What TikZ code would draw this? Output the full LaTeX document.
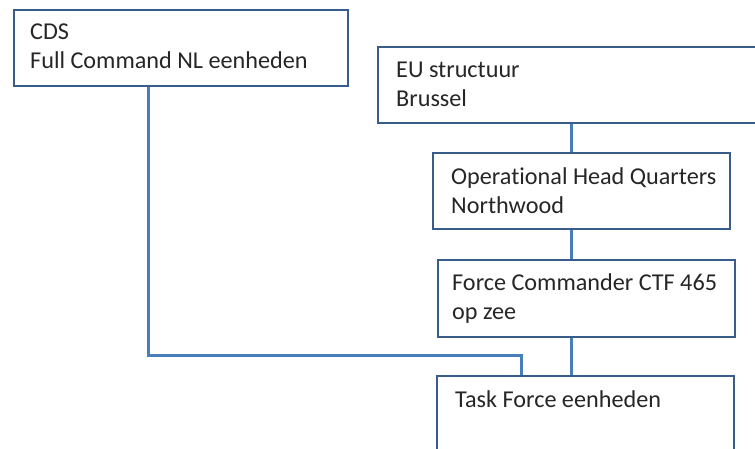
\documentclass[tikz,border=0pt]{standalone}
\usepackage{fontspec}
\setmainfont[Ligatures={NoCommon,NoContextual},Contextuals=NoAlternate]{Carlito}
\usetikzlibrary{calc}
\definecolor{boxline}{RGB}{56,93,138}
\definecolor{connline}{RGB}{74,126,187}
\begin{document}
\begin{tikzpicture}[x=1pt,y=-1pt,
  orgbox/.style={draw=boxline,line width=2pt,fill=white,rectangle,inner sep=0pt,anchor=north west},
  txt/.style={anchor=north west,inner sep=0pt,align=left,text=black!85,font=\fontsize{24.2}{29}\selectfont},
  conn/.style={draw=connline,line width=3pt}]
\useasboundingbox (0,0) rectangle (755,448);
\clip (0,0) rectangle (755,448);
\node[orgbox,minimum width=334pt,minimum height=76pt] (cds) at (13,9) {};
\node[orgbox,minimum width=430pt,minimum height=76pt] (eu) at (377,46) {};
\node[orgbox,minimum width=297pt,minimum height=76pt] (ohq) at (432,152) {};
\node[orgbox,minimum width=297pt,minimum height=77pt] (fc) at (437,259) {};
\node[orgbox,minimum width=297pt,minimum height=110pt] (tf) at (436,375) {};
\coordinate (cx) at (571,0);
\coordinate (bend) at (521,355);
\draw[conn] (eu.south -| cx) -- (ohq.north -| cx);
\draw[conn] (ohq.south -| cx) -- (fc.north -| cx);
\draw[conn] (fc.south -| cx) -- (tf.north -| cx);
\draw[conn] ($(cds.south west)+(135,0)$) |- (bend) -- (tf.north -| bend);
\node[txt] (cdst) at (30,18.7) {\strut CDS\\Full Command NL eenheden};
\node[txt] (eut) at (396,56.7) {\strut EU structuur\\Brussel};
\node[txt] (ohqt) at (451,163.7) {\strut Opera{}tional Head Quarters\\Northwood};
\node[txt] (fct) at (452,269.7) {\strut Force Commander CTF 465\\op zee};
\node[txt] (tft) at (455,386.7) {\strut Task Force eenheden};
\end{tikzpicture}
\end{document}
